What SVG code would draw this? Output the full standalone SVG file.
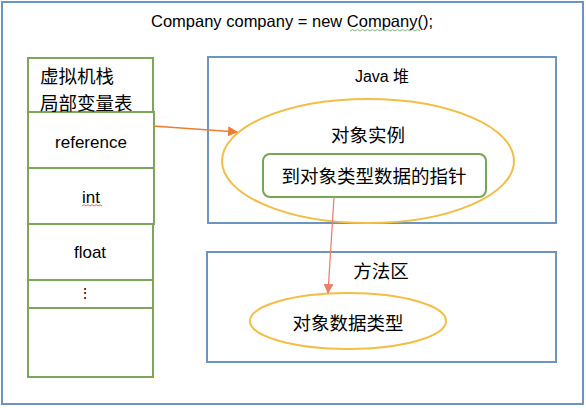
<svg xmlns="http://www.w3.org/2000/svg" width="586" height="408" viewBox="0 0 586 408">
<defs>
<style>
.frame{fill:#fff;stroke:#6b95be;stroke-width:2}
.area{fill:#fff;stroke:#6b95be;stroke-width:2}
.cell{fill:#fff;stroke:#7fa55c;stroke-width:2}
.oval{fill:none;stroke:#f2be45;stroke-width:2}
.ptr{fill:#fff;stroke:#76a554;stroke-width:2}
.t{font-family:"Liberation Sans","Noto Sans CJK SC",sans-serif;fill:#000;text-anchor:middle;dominant-baseline:central}
.cjk{font-family:"Noto Sans CJK SC","Liberation Sans",sans-serif;font-size:18.5px;fill:#000;text-anchor:middle;dominant-baseline:central}
.c1{fill:none;stroke:#ed7d31;stroke-width:1.5}
.c2{fill:none;stroke:#e8806c;stroke-width:1.2}
</style>
<marker id="a1" markerWidth="10" markerHeight="10" refX="9" refY="5" orient="auto" markerUnits="userSpaceOnUse">
<path d="M0,0 L10,5 L0,10 z" fill="#ed7d31"/>
</marker>
<marker id="a2" markerWidth="10" markerHeight="10" refX="9" refY="5" orient="auto" markerUnits="userSpaceOnUse">
<path d="M0,0 L10,5 L0,10 z" fill="#e8806c"/>
</marker>
</defs>
<rect x="0" y="0" width="586" height="408" fill="#fff"/>
<g id="frame">
<rect class="frame" x="2" y="2" width="581" height="402"/>
<text class="t" x="292" y="21" font-size="16.5">Company company = new Company();</text>
<path d="M350,31 l2.5,-1.5 l2.5,1.5 l2.5,-1.5 l2.5,1.5 l2.5,-1.5 l2.5,1.5 l2.5,-1.5 l2.5,1.5 l2.5,-1.5 l2.5,1.5 l2.5,-1.5 l2.5,1.5 l2.5,-1.5 l2.5,1.5 l2.5,-1.5 l2.5,1.5 l2.5,-1.5 l2.5,1.5 l2.5,-1.5 l2.5,1.5 l2.5,-1.5 l2.5,1.5 l2.5,-1.5 l2.5,1.5 l2.5,-1.5 l2.5,1.5 l2.5,-1.5 l2.5,1.5" fill="none" stroke="#5fa15f" stroke-width="0.8"/>
</g>
<g id="stack">
<rect class="cell" x="28" y="58" width="125" height="319"/>
<rect class="cell" x="28" y="112" width="126" height="56"/>
<rect class="cell" x="28" y="168" width="126" height="56"/>
<rect class="cell" x="28" y="224" width="125" height="56"/>
<rect class="cell" x="28" y="280" width="125" height="28"/>
<text class="cjk" x="40" y="75" style="text-anchor:start">虚拟机栈</text>
<text class="cjk" x="40" y="102" style="text-anchor:start">局部变量表</text>
<text class="t" x="91" y="142" font-size="17">reference</text>
<text class="t" x="91" y="197" font-size="17">int</text>
<path d="M82,206 l2,-1.3 l2,1.3 l2,-1.3 l2,1.3 l2,-1.3 l2,1.3 l2,-1.3 l2,1.3 l2,-1.3 l2,1.3" fill="none" stroke="#e03c3c" stroke-width="0.8"/>
<text class="t" x="90" y="252" font-size="17">float</text>
<text class="t" x="85" y="293" font-size="14">⋮</text>
</g>
<g id="heap">
<rect class="area" x="208" y="57" width="348" height="166"/>
<text class="t" x="382" y="76" font-size="16">Java 堆</text>
<ellipse class="oval" cx="368" cy="161" rx="146" ry="62"/>
<text class="cjk" x="368" y="134">对象实例</text>
</g>
<g id="pointer">
<rect class="ptr" x="263" y="154" width="223" height="43" rx="7"/>
<text class="cjk" x="374" y="175">到对象类型数据的指针</text>
</g>
<g id="method">
<rect class="area" x="207" y="252" width="349" height="110"/>
<text class="cjk" x="381" y="270">方法区</text>
</g>
<g id="typedata">
<ellipse class="oval" cx="348" cy="321" rx="98" ry="28"/>
<text class="cjk" x="348" y="322">对象数据类型</text>
</g>
<g id="connectors">
<line class="c1" x1="153" y1="126" x2="237" y2="132" marker-end="url(#a1)"/>
<line class="c2" x1="334" y1="197" x2="328" y2="293" marker-end="url(#a2)"/>
</g>
</svg>
